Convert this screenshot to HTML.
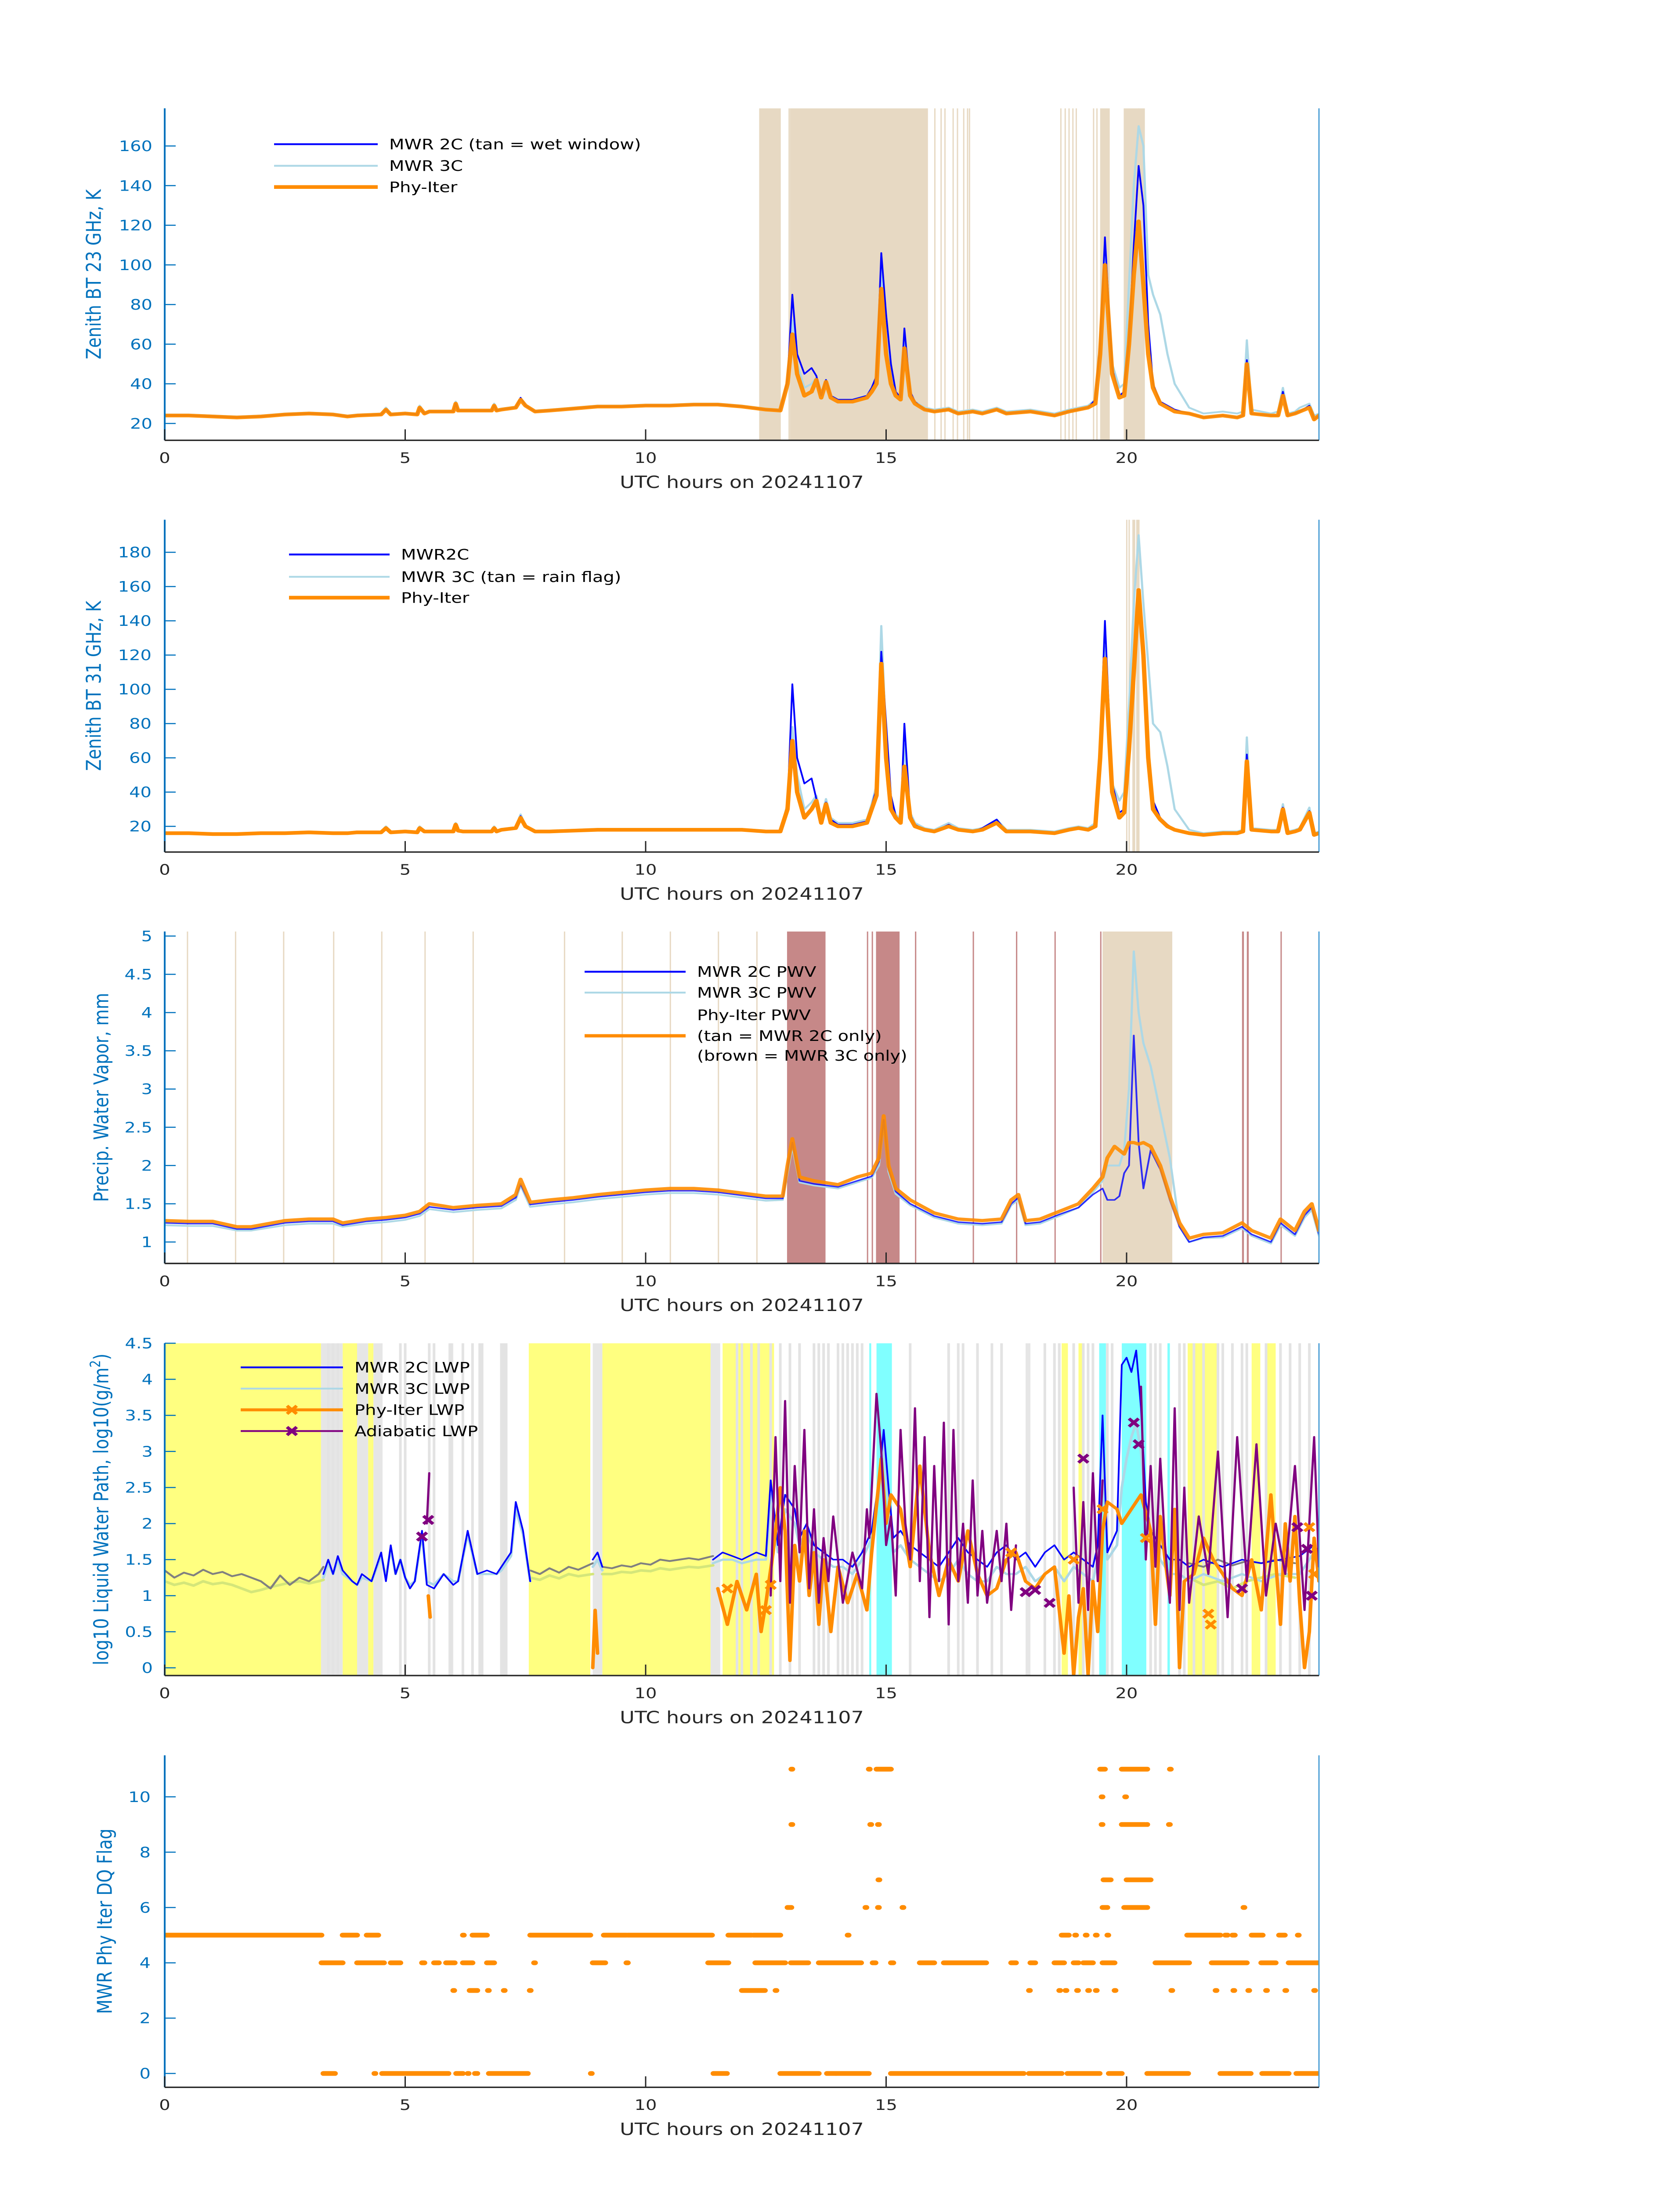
<!DOCTYPE html>
<html><head><meta charset="utf-8"><style>
html,body{margin:0;padding:0;background:#fff;width:100%;height:100%;overflow:hidden}
svg{display:block;position:absolute;left:0;top:0;width:100vw;height:100vh}
text{font-family:"DejaVu Sans","Liberation Sans",sans-serif}
</style></head><body>
<svg id="fig" xmlns="http://www.w3.org/2000/svg" viewBox="0 0 3825 6000" preserveAspectRatio="none">
<rect x="0" y="0" width="3825" height="6000" fill="#fff"/>
</svg>
<script>
// ---------- Panel 1 & 2 shared time grid (UTC hours) ----------
const tBT = [0,0.5,1,1.5,2,2.5,3,3.5,3.8,4,
4.5,4.6,4.7,5,5.25,5.3,5.4,5.5,6,6.05,
6.1,6.2,6.5,6.8,6.85,6.9,7,7.3,7.4,7.5,
7.7,8,8.5,9,9.5,10,10.5,11,11.5,12,
12.5,12.8,12.95,13.05,13.15,13.3,13.45,13.55,13.65,13.75,
13.85,14,14.3,14.6,14.7,14.8,14.9,15.0,15.1,15.2,
15.3,15.38,15.5,15.6,15.8,16,16.3,16.5,16.8,17,
17.3,17.5,18,18.5,18.8,19.0,19.2,19.35,19.45,19.55,
19.7,19.85,19.95,20.05,20.15,20.25,20.35,20.45,20.55,20.7,
20.85,21,21.3,21.6,22,22.3,22.42,22.5,22.6,23,
23.15,23.25,23.35,23.5,23.6,23.8,23.9,24];
const bt23PI = [24,24,23.5,23,23.5,24.5,25,24.5,23.5,24,
24.5,27,24.5,25,24.5,28,25,26,26,30,
26.5,26.5,26.5,26.5,29,26.5,27,28,32,29,
26,26.5,27.5,28.5,28.5,29,29,29.5,29.5,28.5,
27,26.5,40,65,45,34,36,42,33,41,
33,31,31,33,36,40,88,55,40,34,
32,58,34,30,27,26,27,25,26,25,
27,25,26,24,26,27,28,30,55,100,
45,33,34,60,95,122,90,55,38,30,
28,26,25,23,24,23,24,50,25,24,
24,34,24,25,26,28,22,24];
const bt23MWR2C = [24,24,23.5,23,23.5,24.5,25,24.5,23.5,24,
24.5,27,24.5,25,24.5,28,25,26,26,30,
26.5,26.5,26.5,26.5,29,26.5,27,28,33,29,
26,26.5,27.5,28.5,28.5,29,29,29.5,29.5,28.5,
27,26.5,42,85,55,45,48,44,34,42,
34,32,32,34,38,44,106,75,50,36,
33,68,36,31,27,26,27,25,26,25,
27,25,26,24,26,27,28,32,60,114,
48,34,36,62,110,150,130,70,40,31,
29,27,25,23,24,23,24,52,25,24,
24,36,24,25,26,29,22,24];
const bt23MWR3C = [24.5,24.5,24,23.5,24,25,25.5,25,24,24.5,
25,28,25,25.5,25,29,25.5,26.5,26.5,31,
27,27,27,27,30,27,27.5,28.5,32,29.5,
26.5,27,28,29,29,29.5,29.5,30,30,29,
27.5,27,41,72,50,38,40,43,34,42,
34,32,32,34,37,42,100,62,44,35,
33,60,35,31,28,27,28,26,27,26,
28,26,27,25,27,28,29,32,60,105,
50,38,40,90,140,170,160,95,85,75,
55,40,28,25,26,25,26,62,27,25,
26,38,25,26,28,30,24,25];
const bt31PI = [16,16,15.5,15.5,16,16,16.5,16,16,16.5,
16.5,19,16.5,17,16.5,19,17,17,17,21,
17.5,17,17,17,19,17,18,19,25,20,
17,17,17.5,18,18,18,18,18,18,18,
17,17,30,70,40,25,30,35,22,33,
22,20,20,22,30,38,115,60,30,25,
22,55,25,20,18,17,20,18,17,18,
22,17,17,16,18,19,18,20,60,118,
40,25,28,65,110,158,120,60,30,24,
20,18,16,15,16,16,17,58,18,17,
17,30,16,17,18,28,15,16];
const bt31MWR2C = [16,16,15.5,15.5,16,16,16.5,16,16,16.5,
16.5,19,16.5,17,16.5,19,17,17,17,21,
17.5,17,17,17,19,17,18,19,26,20,
17,17,17.5,18,18,18,18,18,18,18,
17,17,32,103,60,45,48,36,24,34,
24,21,21,23,32,42,122,80,38,26,
23,80,27,21,18,17,21,18,17,19,
24,17,17,16,18,19,18,21,65,140,
45,28,30,70,120,150,110,65,35,25,
21,18,16,15,16,16,17,62,18,17,
17,31,16,17,18,29,15,16];
const bt31MWR3C = [16.5,16.5,16,16,16.5,16.5,17,16.5,16.5,17,
17,20,17,17.5,17,20,17.5,17.5,17.5,22,
18,17.5,17.5,17.5,20,17.5,18.5,19.5,27,20.5,
17.5,17.5,18,18.5,18.5,18.5,18.5,18.5,18.5,18.5,
17.5,17.5,33,78,50,30,34,38,25,36,
25,22,22,24,33,44,137,70,36,27,
24,68,28,22,19,18,22,19,18,19,
24,18,18,17,19,20,19,22,62,125,
45,35,40,90,150,190,150,115,80,75,
55,30,18,16,17,17,18,72,19,18,
18,33,17,18,19,31,16,17];
const p1TickVals = [20,40,60,80,100,120,140,160];
const p2TickVals = [20,40,60,80,100,120,140,160,180];
const xTickVals = [0,5,10,15,20];
const p1TanStart = [12.36,13.0,12.97,16.0,16.13,16.21,16.38,16.47,16.6,16.68,16.72,18.62,18.71,18.79,18.87,18.94,19.3,19.37,19.45,19.94,20.24];
const p1TanEnd   = [12.81,15.87,12.99,16.02,16.15,16.23,16.4,16.49,16.62,16.7,16.74,18.64,18.73,18.81,18.89,18.96,19.32,19.39,19.65,20.38,20.26];
const p2TanStart = [19.99,20.04,20.12,20.2];
const p2TanEnd   = [20.01,20.06,20.18,20.27];

// ---------- Panel 3: PWV ----------
const tPWV = [0,0.5,1,1.5,1.8,2.5,3,3.5,3.7,4.2,
4.6,5,5.3,5.5,6,6.5,7,7.3,7.4,7.6,
8,8.5,9,9.5,10,10.5,11,11.5,12,12.5,
12.85,12.95,13.05,13.2,13.5,14,14.4,14.7,14.85,14.95,
15.05,15.2,15.5,16,16.5,17,17.4,17.6,17.75,17.9,
18.2,18.6,19,19.3,19.5,19.6,19.75,19.85,19.95,20.05,
20.15,20.25,20.35,20.5,20.7,20.9,21.1,21.3,21.6,22,
22.4,22.6,23,23.2,23.5,23.7,23.85,24];
const pwvPI = [1.28,1.27,1.27,1.2,1.2,1.28,1.3,1.3,1.25,1.3,
1.32,1.35,1.4,1.5,1.45,1.48,1.5,1.62,1.82,1.52,
1.55,1.58,1.62,1.65,1.68,1.7,1.7,1.68,1.64,1.6,
1.6,2.0,2.35,1.85,1.8,1.75,1.85,1.9,2.1,2.65,
2.0,1.7,1.55,1.38,1.3,1.28,1.3,1.55,1.62,1.28,
1.3,1.4,1.5,1.7,1.85,2.1,2.25,2.2,2.15,2.3,
2.3,2.28,2.3,2.25,2.0,1.6,1.25,1.05,1.1,1.12,
1.25,1.15,1.05,1.3,1.15,1.4,1.5,1.15];
const pwvMWR2C = [1.25,1.24,1.24,1.17,1.17,1.25,1.27,1.27,1.22,1.27,
1.29,1.32,1.37,1.46,1.42,1.45,1.47,1.58,1.76,1.49,
1.52,1.55,1.59,1.62,1.65,1.67,1.67,1.65,1.61,1.57,
1.57,1.95,2.3,1.8,1.76,1.72,1.8,1.86,2.05,2.6,
1.95,1.66,1.5,1.34,1.26,1.24,1.26,1.5,1.58,1.24,
1.26,1.36,1.45,1.62,1.7,1.55,1.55,1.6,1.9,2.0,
3.7,2.3,1.7,2.2,1.95,1.55,1.2,1.0,1.06,1.08,
1.2,1.1,1.0,1.25,1.1,1.35,1.45,1.1];
const pwvMWR3C = [1.22,1.21,1.21,1.15,1.15,1.22,1.24,1.24,1.2,1.24,
1.26,1.29,1.34,1.43,1.39,1.42,1.44,1.55,1.74,1.46,
1.49,1.52,1.56,1.59,1.62,1.64,1.64,1.62,1.58,1.54,
1.55,1.9,2.25,1.78,1.74,1.7,1.78,1.84,2.0,2.55,
1.92,1.63,1.48,1.32,1.24,1.22,1.24,1.48,1.55,1.22,
1.24,1.34,1.45,1.65,1.8,2.0,2.0,2.0,2.2,3.0,
4.8,4.0,3.6,3.3,2.7,2.1,1.2,1.0,1.05,1.06,
1.18,1.08,0.98,1.22,1.08,1.32,1.42,1.08];
const p3TickVals = [1,1.5,2,2.5,3,3.5,4,4.5,5];
const p3TickLabels = ["1","1.5","2","2.5","3","3.5","4","4.5","5"];
const p3BrownStart = [12.94,14.79,14.6,14.7,15.6,16.8,17.7,18.5,19.45,22.4,22.5,23.2];
const p3BrownEnd   = [13.74,15.28,14.62,14.72,15.62,16.82,17.72,18.52,19.47,22.44,22.54,23.22];
const p3TanStart = [19.5,0.46,1.46,2.46,3.5,4.5,5.4,6.4,8.3,9.5,10.5,11.5,12.3];
const p3TanEnd   = [20.95,0.48,1.48,2.48,3.52,4.52,5.42,6.42,8.32,9.52,10.52,11.52,12.32];

// ---------- Panel 4: LWP ----------
const tGray = [0,0.2,0.4,0.6,0.8,1,1.2,1.4,1.6,1.8,2,2.2,2.4,2.6,2.8,3,3.2,3.3,3.31,
7.6,7.8,8.0,8.2,8.4,8.6,8.9,8.91,
9.1,9.3,9.5,9.7,9.9,10.1,10.3,10.5,10.7,10.9,11.1,11.4,11.41,
21.3,21.6,21.9,22.2,22.5,22.8,23.1,23.5];
const lwpGray = [1.35,1.25,1.32,1.28,1.36,1.3,1.33,1.27,1.3,1.25,1.2,1.1,1.28,1.15,1.25,1.2,1.3,1.4,null,
1.35,1.3,1.38,1.32,1.4,1.36,1.45,null,
1.4,1.38,1.42,1.4,1.45,1.43,1.5,1.48,1.5,1.52,1.5,1.55,null,
1.45,1.4,1.5,1.42,1.48,1.45,1.5,1.45];
const lwpGreen = [1.2,1.15,1.18,1.14,1.2,1.16,1.18,1.15,1.1,1.05,1.08,1.12,1.15,1.18,1.2,1.17,1.2,1.22,null,
1.25,1.22,1.28,1.24,1.3,1.27,1.3,null,
1.3,1.3,1.33,1.32,1.35,1.34,1.38,1.36,1.38,1.4,1.39,1.42,null,
1.25,1.15,1.2,1.1,1.2,1.25,1.3,1.25];
const tLWP = [3.3,3.4,3.5,3.6,3.7,3.9,4.0,4.1,4.3,4.5,
4.6,4.7,4.8,4.9,5.0,5.1,5.2,5.35,5.45,5.6,
5.8,6.0,6.1,6.3,6.5,6.7,6.9,7.0,7.2,7.3,
7.45,7.6,7.61,8.9,9.0,9.1,9.11,11.4,11.6,11.8,
12.0,12.3,12.5,12.6,12.75,12.9,13.0,13.1,13.2,13.35,
13.5,13.7,13.9,14.1,14.3,14.5,14.7,14.85,14.95,15.05,
15.15,15.3,15.5,15.7,15.9,16.1,16.3,16.5,16.7,16.9,
17.1,17.3,17.5,17.7,17.9,18.1,18.3,18.5,18.7,18.9,
19.1,19.3,19.4,19.5,19.6,19.8,19.9,20.0,20.1,20.2,
20.3,20.4,20.5,20.7,20.9,21.1,21.3,21.6,22,22.4,
22.8,23.2,23.6,23.9,24];
const lwpMWR2C = [1.3,1.5,1.3,1.55,1.35,1.2,1.15,1.3,1.2,1.6,
1.2,1.7,1.3,1.5,1.25,1.1,1.2,1.9,1.15,1.1,
1.3,1.15,1.2,1.9,1.3,1.35,1.3,1.4,1.6,2.3,
1.9,1.2,null,1.5,1.6,1.4,null,1.5,1.6,1.55,
1.5,1.6,1.55,2.6,1.7,2.4,2.3,2.2,1.8,2.0,
1.7,1.6,1.5,1.5,1.4,1.6,1.9,2.6,3.3,2.5,
1.8,1.9,1.7,1.6,1.5,1.4,1.6,1.8,1.6,1.5,
1.4,1.6,1.7,1.5,1.6,1.4,1.6,1.7,1.5,1.6,
1.5,1.4,1.7,3.5,1.6,1.9,4.2,4.3,4.1,4.4,
3.6,2.3,1.9,1.7,1.5,1.5,1.4,1.5,1.4,1.5,
1.45,1.5,1.55,1.7,1.6];
const lwpMWR3C = [1.25,1.45,1.3,1.5,1.3,1.2,1.15,1.25,1.2,1.55,
1.25,1.65,1.3,1.5,1.25,1.15,1.2,1.85,1.2,1.15,
1.3,1.2,1.2,1.85,1.3,1.3,1.3,1.35,1.55,2.2,
1.85,1.2,null,1.4,1.5,1.35,null,1.45,1.5,1.5,
1.45,1.5,1.5,2.4,1.6,2.2,2.1,2.0,1.7,1.9,
1.6,1.5,1.4,1.4,1.3,1.5,1.8,2.4,3.2,2.3,
1.6,1.7,1.5,1.4,1.3,1.2,1.3,1.5,1.3,1.2,
1.2,1.4,1.3,1.3,1.4,1.2,1.3,1.4,1.2,1.4,
1.3,1.2,1.5,3.0,1.5,1.7,2.5,2.9,3.2,3.4,
3.0,2.2,1.8,1.5,1.3,1.3,1.2,1.3,1.2,1.3,
1.2,1.3,1.3,1.6,1.4];
const tPhy = [5.48,5.52,5.53,8.9,8.95,9.0,9.01,11.5,11.7,11.9,
12.1,12.3,12.4,12.5,12.65,12.8,12.9,13.0,13.1,13.2,
13.3,13.4,13.5,13.6,13.7,13.85,14.0,14.2,14.4,14.6,
14.7,14.9,15.0,15.1,15.3,15.5,15.7,15.9,16.1,16.3,
16.5,16.7,16.9,17.1,17.3,17.5,17.7,17.9,18.1,18.3,
18.5,18.7,18.8,18.9,19.0,19.1,19.2,19.3,19.4,19.5,
19.6,19.8,19.9,20.3,20.5,20.6,20.7,20.8,20.9,21.0,
21.1,21.2,21.4,21.6,21.8,22.0,22.2,22.4,22.6,22.8,
23.0,23.2,23.3,23.4,23.5,23.6,23.7,23.8,23.9,24];
const lwpPhy = [1.0,0.7,null,0,0.8,0.2,null,1.1,0.6,1.2,
0.8,1.3,0.5,0.9,1.6,2.5,1.9,0.1,1.7,1.2,
1.9,1.0,1.6,0.6,1.5,0.5,1.4,0.9,1.3,0.8,
1.6,2.9,2.0,2.4,2.2,1.4,2.8,1.6,1.0,1.5,
1.2,1.9,1.3,1.0,1.1,1.5,1.6,1.2,1.1,1.3,
1.4,0.2,1.0,-0.1,0.7,1.1,-0.1,1.2,0.5,1.9,
2.3,2.2,2.0,2.4,1.9,0.6,2.1,1.5,1.0,2.2,
0.0,1.2,1.3,1.8,1.5,1.3,1.1,1.0,1.5,0.8,
2.4,0.6,2.0,1.2,2.1,0.9,0.0,0.5,1.8,1.2];
const tAdia = [5.45,5.5,5.51,12.6,12.7,12.8,12.9,13.0,13.1,13.2,
13.3,13.4,13.5,13.6,13.7,13.8,13.9,14.0,14.1,14.3,
14.5,14.6,14.65,14.8,14.9,15.0,15.1,15.2,15.3,15.4,
15.5,15.6,15.7,15.8,15.9,16.0,16.1,16.2,16.3,16.4,
16.5,16.6,16.7,16.8,16.9,17.0,17.1,17.2,17.3,17.4,
17.5,17.6,17.7,17.71,18.9,19.0,19.1,19.2,19.3,19.4,19.5,19.51,
20.3,20.4,20.5,20.6,20.7,20.8,20.9,21.0,21.1,21.2,
21.3,21.5,21.7,21.9,22.1,22.3,22.5,22.7,22.9,23.1,
23.3,23.5,23.7,23.9,24];
const lwpAdia = [2.0,2.7,null,1.0,3.2,1.2,3.7,0.9,2.8,1.6,
3.3,1.1,2.2,0.9,1.8,1.2,2.1,1.5,0.9,1.6,
1.1,2.2,1.8,3.8,3.0,1.7,2.1,1.0,3.3,2.0,
1.5,3.6,1.2,3.2,0.7,2.8,1.2,3.4,0.6,3.3,
1.2,2.0,0.9,2.6,1.0,1.9,0.9,1.4,1.9,1.2,
2.0,0.8,1.7,null,2.5,0.9,2.3,0.8,2.7,1.2,2.6,null,
3.9,1.5,2.8,1.4,2.9,1.7,0.9,3.6,0.8,2.5,
0.9,2.1,1.3,3.0,0.7,3.2,1.2,3.1,1.0,2.0,
1.3,2.8,0.8,3.2,1.4];
const adiaMarkT = [5.35,5.48,17.9,18.1,18.4,19.1,20.15,20.25,22.4,23.55,23.75,23.85];
const adiaMarkV = [1.82,2.05,1.05,1.08,0.9,2.9,3.4,3.1,1.1,1.95,1.65,1.0];
const phyMarkT = [11.7,12.5,12.6,17.6,18.9,19.5,20.4,21.7,21.75,23.8,23.9];
const phyMarkV = [1.1,0.8,1.15,1.6,1.5,2.2,1.8,0.75,0.6,1.95,1.3];
const p4TickVals = [0,0.5,1,1.5,2,2.5,3,3.5,4,4.5];
const p4TickLabels = ["0","0.5","1","1.5","2","2.5","3","3.5","4","4.5"];
const yellowStart = [0,3.7,4.23,7.57,9.1,11.6,18.65,19.0,21.27,22.6,22.9];
const yellowEnd   = [3.25,4.0,4.34,8.85,11.35,12.67,18.78,19.1,21.92,22.78,23.1];
const cyanStart = [14.65,14.8,19.43,19.9,20.85];
const cyanEnd   = [14.69,15.12,19.57,20.41,20.9];
const grayBandStart = [3.25,4.0,4.34,5.9,8.9,11.35,17.9];
const grayBandEnd   = [3.7,4.23,4.53,6.0,9.1,11.55,18.0];
const grayLines = [3.4,3.5,3.6,4.9,5.0,5.5,5.6,5.95,6.2,6.4,6.55,6.6,7.0,7.05,7.1,11.9,12.0,12.2,12.35,12.6,12.8,13.0,13.2,13.5,13.6,13.7,13.8,14.0,14.1,14.2,14.3,14.4,14.5,15.5,16.3,16.5,16.6,16.9,17.2,17.4,18.3,18.5,18.6,18.9,19.1,19.2,19.3,19.6,19.7,20.5,20.6,20.7,21.1,21.2,21.4,21.6,21.9,22.0,22.2,22.4,22.5,22.9,23.2,23.4,23.6,23.8];

// ---------- Panel 5: DQ flag runs ----------
const flagStart = [0,3.7,4.2,6.2,6.4,7.6,9.13,9.63,11.72,12.24,14.2,18.65,18.93,19.15,19.36,19.6,21.26,22.05,22.2,22.6,23.17,23.56,
3.26,4.0,4.7,5.35,5.6,5.85,6.2,6.7,7.68,8.9,9.6,11.3,12.28,13.02,13.6,14.72,15.1,15.7,16.2,17.6,18.0,18.5,18.9,19.1,19.5,20.6,21.77,22.8,23.37,
6.0,6.34,6.72,7.05,7.59,12.0,12.7,17.97,18.6,18.73,18.97,19.2,19.36,19.75,20.93,21.85,22.22,22.53,22.9,23.3,23.9,
3.3,4.36,4.52,6.06,6.3,6.45,6.74,8.86,11.41,12.8,13.77,13.97,15.1,17.97,18.77,19.63,20.43,21.95,22.82,23.53,
12.95,14.57,14.83,15.34,19.5,19.95,22.43,
14.84,19.52,20.0,
13.03,14.67,14.83,19.48,19.9,20.41,20.88,
19.48,19.97,
13.03,14.64,14.8,19.45,19.9,20.9];
const flagEnd = [3.26,4.0,4.44,6.22,6.7,8.85,9.6,11.38,12.2,12.8,14.22,18.8,18.95,19.17,19.38,19.62,21.95,22.1,22.25,22.83,23.29,23.58,
3.7,4.56,4.9,5.4,5.7,6.03,6.4,6.85,7.7,9.16,9.63,11.72,12.9,13.38,14.48,14.78,15.15,16.0,17.08,17.7,18.1,18.7,19.0,19.3,19.75,21.3,22.5,23.1,24,
6.02,6.5,6.74,7.07,7.61,12.48,12.72,17.99,18.62,18.75,18.99,19.22,19.38,19.77,20.95,21.87,22.24,22.55,22.92,23.32,23.92,
3.54,4.38,5.9,6.2,6.32,6.5,7.55,8.88,11.69,13.6,13.95,14.64,17.86,18.65,19.44,19.9,21.28,22.58,23.37,24,
13.03,14.59,14.85,15.36,19.6,20.43,22.45,
14.86,19.67,20.5,
13.05,14.69,14.85,19.5,20.38,20.43,20.9,
19.5,19.99,
13.05,14.66,15.1,19.55,20.43,20.92];
const flagValue = [5,5,5,5,5,5,5,5,5,5,5,5,5,5,5,5,5,5,5,5,5,5,
4,4,4,4,4,4,4,4,4,4,4,4,4,4,4,4,4,4,4,4,4,4,4,4,4,4,4,4,4,
3,3,3,3,3,3,3,3,3,3,3,3,3,3,3,3,3,3,3,3,3,
0,0,0,0,0,0,0,0,0,0,0,0,0,0,0,0,0,0,0,0,
6,6,6,6,6,6,6,
7,7,7,
9,9,9,9,9,9,9,
10,10,
11,11,11,11,11,11];
const p5TickVals = [0,2,4,6,8,10];

// ---------- drawing ----------
const NS = "http://www.w3.org/2000/svg";
const svg = document.getElementById('fig');
const X0 = 375, X1 = 3003;
function X(h){ return X0 + (h/24)*(X1-X0); }
function mk(tag, attrs, parent){
  const e = document.createElementNS(NS, tag);
  for (const k in attrs) e.setAttribute(k, attrs[k]);
  (parent||svg).appendChild(e);
  return e;
}
function pathD(ts, vs, Y){
  let d = "", pen = false;
  for (let i=0;i<ts.length;i++){
    if (vs[i]===null){ pen=false; continue; }
    d += (pen?"L":"M") + X(ts[i]).toFixed(1) + " " + Y(vs[i]).toFixed(1) + " ";
    pen = true;
  }
  return d;
}
let clipN = 0;
function panel(p){
  const g = mk('g', {});
  
  
  const Y = v => p.bot - (v - p.ymin)/(p.ymax - p.ymin)*(p.bot - p.top);
  const cid = 'clip'+(clipN++);
  const cp = mk('clipPath', {id:cid}, g);
  mk('rect', {x:X0, y:p.top, width:X1-X0, height:p.bot-p.top}, cp);
  const plot = mk('g', {'clip-path':'url(#'+cid+')'}, g);
  
  
  return {g, plot, Y};
}
function bands(P, starts, ends, fill, name, top, bot, op){
  for (let i=0;i<starts.length;i++){
    const r = mk('rect', {x:X(starts[i]), y:top, width:Math.max(3, X(ends[i])-X(starts[i])), height:bot-top, fill:fill, 'fill-opacity':op||1}, P.plot);
    
    
  }
}
function line(P, ts, vs, color, w, name, op){
  const e = mk('path', {d:pathD(ts, vs, P.Y), fill:'none', stroke:color, 'stroke-width':w, 'stroke-linejoin':'round', 'stroke-linecap':'round', 'stroke-opacity':op||1}, P.plot);
  
  
}
function axes(P, p, ticks, labels){
  const g = P.g;
  let s = mk('line', {x1:X0, y1:p.top, x2:X0, y2:p.bot, stroke:'#0072BD', 'stroke-width':4}, g);
   
  s = mk('line', {x1:X1, y1:p.top, x2:X1, y2:p.bot, stroke:'#4d9fd6', 'stroke-width':3}, g);
   
  s = mk('line', {x1:X0, y1:p.bot, x2:X1, y2:p.bot, stroke:'#262626', 'stroke-width':4}, g);
   
  for (let i=0;i<ticks.length;i++){
    const y = P.Y(ticks[i]);
    const t = mk('line', {x1:X0, y1:y, x2:X0+25, y2:y, stroke:'#0072BD', 'stroke-width':3}, g);
     
    const tx = mk('text', {x:p.tickX, y:y+14, 'text-anchor':'end', 'font-size':40, fill:'#0072BD'}, g);
    tx.textContent = labels ? labels[i] : String(ticks[i]);
     
  }
  for (const h of xTickVals){
    const t = mk('line', {x1:X(h), y1:p.bot, x2:X(h), y2:p.bot-30, stroke:'#262626', 'stroke-width':3}, g);
     
    const tx = mk('text', {x:X(h), y:p.bot+62, 'text-anchor':'middle', 'font-size':40, fill:'#262626'}, g);
    tx.textContent = String(h);
     
  }
  const xt = mk('text', {x:1689, y:p.bot+130, 'text-anchor':'middle', 'font-size':46, fill:'#262626'}, g);
  xt.textContent = 'UTC hours on 20241107';
   
  const cy = (p.top+p.bot)/2;
  const yt = mk('text', {x:p.titleX, y:cy, 'text-anchor':'middle', 'font-size':46, fill:'#0072BD', transform:'rotate(-90 '+p.titleX+' '+cy+')', 'dominant-baseline':'middle'}, g);
   
  if (p.titleSup){
    yt.appendChild(document.createTextNode(p.title));
    const ts = document.createElementNS(NS, 'tspan');
    ts.setAttribute('dy', -16); ts.setAttribute('font-size', 32); ts.textContent = '2';
    yt.appendChild(ts);
    const t2 = document.createElementNS(NS, 'tspan');
    t2.setAttribute('dy', 16); t2.textContent = ')';
    yt.appendChild(t2);
  } else yt.textContent = p.title;
}
function legendEntry(g, x1, x2, y, color, w, label, marker, op){
  const eg = mk('g', {}, g);
   
  if (color) mk('line', {x1:x1, y1:y, x2:x2, y2:y, stroke:color, 'stroke-width':w, 'stroke-opacity':op||1}, eg);
  if (marker){ crossAt(eg, (x1+x2)/2, y, marker); }
  const t = mk('text', {x:x2+26, y:y+14, 'font-size':40, fill:'#000'}, eg);
  t.textContent = label;
}
function crossAt(parent, x, y, color){
  const c = mk('path', {d:`M${x-11} ${y-11}L${x+11} ${y+11}M${x-11} ${y+11}L${x+11} ${y-11}`, stroke:color, 'stroke-width':8, fill:'none'}, parent);
   
}

// Panel 1
{
  const p = {name:'panel-23ghz', top:296, bot:1203, ymin:11.5, ymax:179, tickX:347, titleX:217, title:'Zenith BT 23 GHz, K'};
  const P = panel(p);
  bands(P, p1TanStart, p1TanEnd, '#e7d9c3', 'wet-window-band', p.top, p.bot);
  line(P, tBT, bt23MWR3C, '#add8e6', 5, 'series-mwr3c-23');
  line(P, tBT, bt23MWR2C, '#0000ff', 4, 'series-mwr2c-23');
  line(P, tBT, bt23PI, '#ff8c00', 10, 'series-phyiter-23', 0.95);
  axes(P, p, p1TickVals);
  const lg = mk('g', {}, P.g);  
  legendEntry(lg, 624, 860, 394, '#0000ff', 5, 'MWR 2C (tan = wet window)');
  legendEntry(lg, 624, 860, 453, '#add8e6', 5, 'MWR 3C');
  legendEntry(lg, 624, 860, 511, '#ff8c00', 10, 'Phy-Iter');
}
// Panel 2
{
  const p = {name:'panel-31ghz', top:1420, bot:2328, ymin:5, ymax:199, tickX:345, titleX:217, title:'Zenith BT 31 GHz, K'};
  const P = panel(p);
  bands(P, p2TanStart, p2TanEnd, '#e7d9c3', 'rain-flag-band', p.top, p.bot);
  line(P, tBT, bt31MWR3C, '#add8e6', 5, 'series-mwr3c-31');
  line(P, tBT, bt31MWR2C, '#0000ff', 4, 'series-mwr2c-31');
  line(P, tBT, bt31PI, '#ff8c00', 10, 'series-phyiter-31');
  axes(P, p, p2TickVals);
  const lg = mk('g', {}, P.g);  
  legendEntry(lg, 658, 887, 1515, '#0000ff', 5, 'MWR2C');
  legendEntry(lg, 658, 887, 1576, '#add8e6', 5, 'MWR 3C (tan = rain flag)');
  legendEntry(lg, 658, 887, 1633, '#ff8c00', 10, 'Phy-Iter');
}
// Panel 3
{
  const p = {name:'panel-pwv', top:2545, bot:3452, ymin:0.72, ymax:5.06, tickX:347, titleX:234, title:'Precip. Water Vapor, mm'};
  const P = panel(p);
  bands(P, p3TanStart, p3TanEnd, '#e7d9c3', 'mwr2c-only-band', p.top, p.bot);
  bands(P, p3BrownStart, p3BrownEnd, '#c07b7b', 'mwr3c-only-band', p.top, p.bot, 0.9);
  line(P, tPWV, pwvMWR3C, '#add8e6', 5, 'series-mwr3c-pwv');
  line(P, tPWV, pwvMWR2C, '#0000ff', 4, 'series-mwr2c-pwv', 0.8);
  line(P, tPWV, pwvPI, '#ff8c00', 9, 'series-phyiter-pwv', 0.9);
  axes(P, p, p3TickVals, p3TickLabels);
  const lg = mk('g', {}, P.g);  
  legendEntry(lg, 1331, 1561, 2655, '#0000ff', 5, 'MWR 2C PWV');
  legendEntry(lg, 1331, 1561, 2712, '#add8e6', 5, 'MWR 3C PWV');
  legendEntry(lg, 1331, 1561, 2773, null, 0, 'Phy-Iter PWV');
  legendEntry(lg, 1331, 1561, 2830, '#ff8c00', 9, '(tan = MWR 2C only)');
  legendEntry(lg, 1331, 1561, 2884, null, 0, '(brown = MWR 3C only)');
}
// Panel 4
{
  const p = {name:'panel-lwp', top:3670, bot:4578, ymin:-0.107, ymax:4.5, tickX:348, titleX:234, title:'log10 Liquid Water Path, log10(g/m', titleSup:true};
  const P = panel(p);
  bands(P, yellowStart, yellowEnd, '#ffff80', 'yellow-flag-band', p.top, p.bot);
  bands(P, grayBandStart, grayBandEnd, '#e6e6e6', 'gray-flag-band', p.top, p.bot);
  for (const h of grayLines){
    const r = mk('rect', {x:X(h)-3, y:p.top, width:6, height:p.bot-p.top, fill:'#e3e3e3'}, P.plot);
     
  }
  bands(P, cyanStart, cyanEnd, '#80ffff', 'cyan-flag-band', p.top, p.bot);
  line(P, tGray, lwpGreen, '#d4e67a', 7, 'series-mwr3c-flagged');
  line(P, tGray, lwpGray, '#808080', 5, 'series-mwr2c-flagged');
  line(P, tLWP, lwpMWR3C, '#add8e6', 6, 'series-mwr3c-lwp');
  line(P, tLWP, lwpMWR2C, '#0000ff', 4, 'series-mwr2c-lwp');
  line(P, tPhy, lwpPhy, '#ff8c00', 8, 'series-phyiter-lwp');
  line(P, tAdia, lwpAdia, '#800080', 5, 'series-adiabatic-lwp');
  for (let i=0;i<phyMarkT.length;i++) crossAt(P.plot, X(phyMarkT[i]), P.Y(phyMarkV[i]), '#ff8c00');
  for (let i=0;i<adiaMarkT.length;i++) crossAt(P.plot, X(adiaMarkT[i]), P.Y(adiaMarkV[i]), '#800080');
  axes(P, p, p4TickVals, p4TickLabels);
  const lg = mk('g', {}, P.g);  
  legendEntry(lg, 548, 781, 3736, '#0000ff', 5, 'MWR 2C LWP');
  legendEntry(lg, 548, 781, 3794, '#add8e6', 5, 'MWR 3C LWP');
  legendEntry(lg, 548, 781, 3852, '#ff8c00', 8, 'Phy-Iter LWP', '#ff8c00');
  legendEntry(lg, 548, 781, 3910, '#800080', 5, 'Adiabatic LWP', '#800080');
}
// Panel 5
{
  const p = {name:'panel-dq-flag', top:4796, bot:5703, ymin:-0.5, ymax:11.5, tickX:343, titleX:242, title:'MWR Phy Iter DQ Flag'};
  const P = panel(p);
  for (let i=0;i<flagStart.length;i++){
    const y = P.Y(flagValue[i]);
    const r = mk('line', {x1:X(flagStart[i]), y1:y, x2:X(flagEnd[i]), y2:y, stroke:'#ff8c00', 'stroke-width':13, 'stroke-linecap':'round'}, P.plot);
    
    
  }
  axes(P, p, p5TickVals);
}
</script>
</body></html>
